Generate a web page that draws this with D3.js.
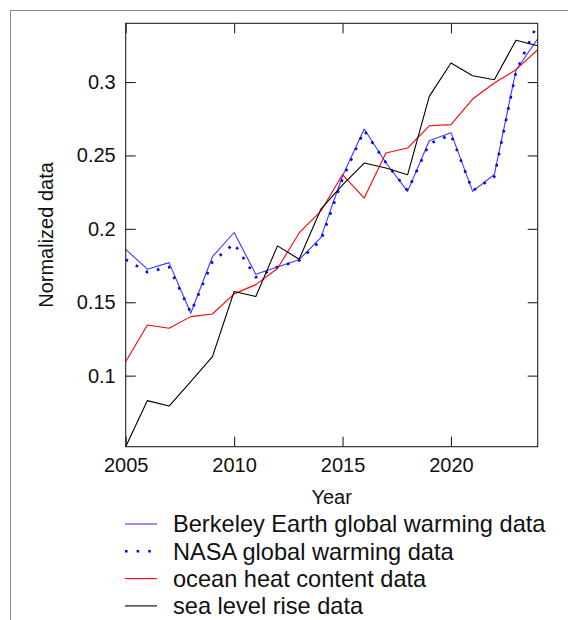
<!DOCTYPE html>
<html>
<head>
<meta charset="utf-8">
<script src="https://cdn.jsdelivr.net/npm/d3@7"></script>
<style>
  html, body { margin: 0; padding: 0; background: #fff; }
  svg { display: block; font-family: "Liberation Sans", Arial, sans-serif; }
</style>
</head>
<body>
<svg id="chart" width="568" height="620"></svg>
<script>
// ---- data ----
const years = [2005, 2006, 2007, 2008, 2009, 2010, 2011, 2012, 2013, 2014,
               2015, 2016, 2017, 2018, 2019, 2020, 2021, 2022, 2023, 2024];
const berkeley = [0.186, 0.1725, 0.177, 0.1425, 0.181, 0.1975, 0.169, 0.174, 0.179, 0.194,
                  0.236, 0.268, 0.245, 0.2255, 0.260, 0.2655, 0.2255, 0.237, 0.308, 0.3295];
const nasa = [0.179, 0.1705, 0.174, 0.143, 0.1775, 0.190, 0.167, 0.174, 0.1785, 0.192,
              0.234, 0.267, 0.245, 0.226, 0.258, 0.264, 0.226, 0.2355, 0.307, 0.340];
const ocean = [0.1095, 0.1345, 0.1323, 0.1402, 0.142, 0.1557, 0.162, 0.173, 0.1972, 0.212,
               0.237, 0.221, 0.2516, 0.255, 0.2702, 0.271, 0.2884, 0.2993, 0.3084, 0.322];
const sea = [0.0516, 0.083, 0.0793, 0.0959, 0.113, 0.1573, 0.1539, 0.1884, 0.1793, 0.2134,
             0.230, 0.2448, 0.2414, 0.2368, 0.2902, 0.313, 0.3043, 0.3016, 0.3284, 0.3247];
const xTicks = [2005, 2010, 2015, 2020];
const yTicks = [0.1, 0.15, 0.2, 0.25, 0.3];
const yTickLabels = ["0.1", "0.15", "0.2", "0.25", "0.3"];
const seriesNames = ["Berkeley Earth global warming data", "NASA global warming data",
                     "ocean heat content data", "sea level rise data"];

// ---- layout ----
const svg = d3.select("#chart");
const L = 125.7, R = 537.7, T = 23.3, B = 446.7;
const font = '"Liberation Sans", Arial, sans-serif';

// outer frame
svg.append("rect").attr("x", 10.5).attr("y", 10.5).attr("width", 700).attr("height", 700)
  .attr("fill", "none").attr("stroke", "#8c8c8c").attr("stroke-width", 1);

const x = d3.scaleLinear().domain(d3.extent(years)).range([L, R]);
const allVals = berkeley.concat(nasa, ocean, sea);
const y = d3.scaleLinear().domain(d3.extent(allVals)).range([B, T]);

const series = [
  { name: seriesNames[0], values: berkeley, color: "#3a3aff", width: 1.1, dash: null },
  { name: seriesNames[1], values: nasa, color: "#0000ff", width: 2.6, dash: "2.6 9" },
  { name: seriesNames[2], values: ocean, color: "#ff0000", width: 1.1, dash: null },
  { name: seriesNames[3], values: sea, color: "#000000", width: 1.1, dash: null }
];

svg.append("clipPath").attr("id", "plotclip")
  .append("rect").attr("x", L).attr("y", T).attr("width", R - L).attr("height", B - T);

const line = d3.line().x((d, i) => x(years[i])).y(d => y(d));
const gLines = svg.append("g").attr("clip-path", "url(#plotclip)");
series.forEach(s => {
  gLines.append("path").datum(s.values)
    .attr("d", line)
    .attr("fill", "none")
    .attr("stroke", s.color)
    .attr("stroke-width", s.width)
    .attr("stroke-dasharray", s.dash)
    .attr("stroke-linejoin", "round");
});

// axes with inward ticks
const tickLen = 10;
const axB = svg.append("g").attr("transform", `translate(0,${B})`)
  .call(d3.axisBottom(x).tickValues(xTicks).tickFormat(d3.format("d"))
        .tickSizeInner(-tickLen).tickSizeOuter(0).tickPadding(11));
const axT = svg.append("g").attr("transform", `translate(0,${T})`)
  .call(d3.axisTop(x).tickValues(xTicks).tickFormat("")
        .tickSizeInner(-tickLen).tickSizeOuter(0));
const axL = svg.append("g").attr("transform", `translate(${L},0)`)
  .call(d3.axisLeft(y).tickValues(yTicks).tickFormat((d, i) => yTickLabels[i])
        .tickSizeInner(-tickLen).tickSizeOuter(0).tickPadding(10));
const axR = svg.append("g").attr("transform", `translate(${R},0)`)
  .call(d3.axisRight(y).tickValues(yTicks).tickFormat("")
        .tickSizeInner(-tickLen).tickSizeOuter(0));

[axB, axT, axL, axR].forEach(g => {
  g.select(".domain").remove();
  g.selectAll(".tick line").attr("stroke", "#222").attr("stroke-width", 1.1);
  g.selectAll(".tick text").attr("font-size", 20).attr("font-family", font).attr("fill", "#111");
});

// plot box
svg.append("rect").attr("x", L).attr("y", T).attr("width", R - L).attr("height", B - T)
  .attr("fill", "none").attr("stroke", "#222").attr("stroke-width", 1.1);

// axis titles
svg.append("text").attr("x", (L + R) / 2).attr("y", 504)
  .attr("text-anchor", "middle").attr("font-size", 20).attr("fill", "#111").text("Year");
svg.append("text").attr("transform", `translate(53,${(T + B) / 2}) rotate(-90)`)
  .attr("text-anchor", "middle").attr("font-size", 20).attr("fill", "#111").text("Normalized data");

// legend
const legY0 = 524, legDy = 27.3;
series.forEach((s, i) => {
  const yy = legY0 + i * legDy;
  svg.append("line").attr("x1", 125).attr("x2", 157).attr("y1", yy).attr("y2", yy)
    .attr("stroke", s.color).attr("stroke-width", s.width).attr("stroke-dasharray", s.dash);
  svg.append("text").attr("x", 173).attr("y", yy).attr("dy", "0.35em")
    .attr("font-size", 23.6).attr("fill", "#111").text(s.name);
});
</script>
</body>
</html>
